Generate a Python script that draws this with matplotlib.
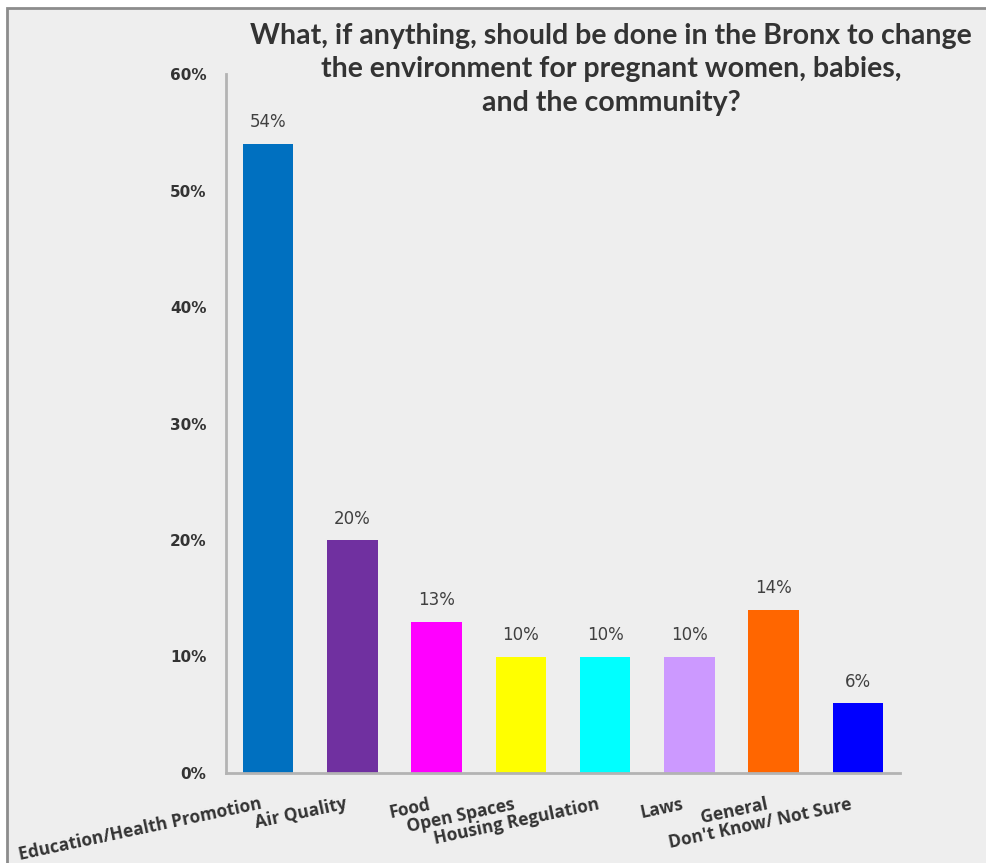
import matplotlib
matplotlib.use("Agg")
import matplotlib.pyplot as plt
from matplotlib.patches import Rectangle
from matplotlib.ticker import PercentFormatter
from matplotlib.transforms import ScaledTranslation

categories = ["Education/Health Promotion", "Air Quality", "Food", "Open Spaces",
              "Housing Regulation", "Laws", "General", "Don't Know/ Not Sure"]
values = [54, 20, 13, 10, 10, 10, 14, 6]
colors = ["#0070C0", "#7030A0", "#FF00FF", "#FFFF00",
          "#00FFFF", "#CC99FF", "#FF6600", "#0000FF"]
yticks = [0, 10, 20, 30, 40, 50, 60]
title_lines = ["What, if anything, should be done in the Bronx to change",
               "the environment for pregnant women, babies,",
               "and the community?"]

W, H = 987, 863
fig = plt.figure(figsize=(W / 100, H / 100), dpi=100, facecolor="white")

# grey panel behind the chart
panel = Rectangle((7 / W, -0.01), 1.02, 1 - 8 / H + 0.01, transform=fig.transFigure,
                  facecolor="#EEEEEE", edgecolor="#8C8C8C", linewidth=2, zorder=-5)
fig.patches.append(panel)

ax = fig.add_axes([226 / W, 1 - 773 / H, (900 - 226) / W, (773 - 74) / H])
ax.set_facecolor("none")
ax.set_zorder(2)

x = range(len(categories))
bars = ax.bar(x, values, width=0.6, color=colors, zorder=2)
ax.set_xlim(-0.5, len(categories) - 0.5)
ax.set_ylim(0, 60)
ax.set_yticks(yticks)
ax.yaxis.set_major_formatter(PercentFormatter(decimals=0))

for rect, v in zip(bars, values):
    ax.annotate(f"{v}%", (rect.get_x() + rect.get_width() / 2, v),
                xytext=(0, 9), textcoords="offset points", ha="center", va="bottom",
                fontsize=12, color="#404040", family="DejaVu Sans")

ax.set_xticks(list(x))
ax.set_xticklabels(categories, rotation=12, ha="right", va="top", rotation_mode="anchor",
                   fontsize=12.5, fontweight="bold", color="#333333", family="Open Sans")
ax.tick_params(axis="x", length=0, pad=16)
shift = ScaledTranslation(-8 / 100, 0, fig.dpi_scale_trans)
for lbl in ax.get_xticklabels():
    lbl.set_transform(lbl.get_transform() + shift)
ax.tick_params(axis="y", length=0, pad=14, labelsize=11, labelcolor="#333333")
for lbl in ax.get_yticklabels():
    lbl.set_fontweight("bold")

for side in ("top", "right"):
    ax.spines[side].set_visible(False)
for side in ("left", "bottom"):
    ax.spines[side].set_color("#B3B3B3")
    ax.spines[side].set_linewidth(2)

# three-line centred title
for i, line in enumerate(title_lines):
    fig.text(611 / W, 1 - (36 + 33.5 * i) / H, line, ha="center", va="center",
             fontsize=20.5, fontweight="bold", color="#333333", family="Lato")

fig.savefig("out.png", dpi=100, facecolor="white")
